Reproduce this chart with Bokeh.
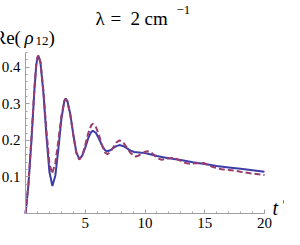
from bokeh.plotting import figure
from bokeh.models import Range1d, FixedTicker, Label, LinearAxis
from bokeh.embed import file_html
from bokeh.resources import INLINE

# ---- data ----
t_solid = [0, 0.1, 0.25, 0.5, 0.75, 0.9, 1.0, 1.08, 1.25, 1.5, 1.75, 2.0, 2.25, 2.5, 2.75,
           3.0, 3.25, 3.36, 3.5, 3.75, 4.0, 4.25, 4.5, 4.75, 5.0, 5.25, 5.5, 5.64, 5.9,
           6.15, 6.4, 6.65, 6.83, 7.1, 7.35, 7.6, 7.86, 8.2, 8.5, 8.8, 9.1, 9.5, 10.0,
           10.5, 11.0, 11.5, 12.0, 13.0, 14.0, 15.0, 16.0, 17.0, 18.0, 19.0, 20.0]
re_solid = [0.0, 0.03, 0.08, 0.2, 0.34, 0.405, 0.425, 0.431, 0.413, 0.329, 0.213, 0.114, 0.075,
            0.104, 0.176, 0.257, 0.308, 0.314, 0.308, 0.271, 0.216, 0.168, 0.149, 0.158,
            0.180, 0.206, 0.223, 0.226, 0.220, 0.204, 0.186, 0.173, 0.170, 0.173, 0.179,
            0.184, 0.187, 0.184, 0.178, 0.172, 0.168, 0.167, 0.165, 0.161, 0.157, 0.154,
            0.151, 0.146, 0.140, 0.135, 0.130, 0.126, 0.122, 0.118, 0.114]

t_dashed = [0, 0.1, 0.25, 0.5, 0.75, 0.9, 1.0, 1.08, 1.25, 1.5, 1.75, 2.0, 2.22, 2.5, 2.75,
            3.0, 3.25, 3.36, 3.5, 3.75, 4.0, 4.25, 4.5, 4.75, 5.0, 5.25, 5.5, 5.64, 5.9,
            6.15, 6.4, 6.65, 6.85, 7.1, 7.35, 7.6, 7.86, 8.2, 8.5, 8.8, 9.2, 9.45, 9.7,
            9.95, 10.2, 10.5, 10.8, 11.1, 11.4, 11.8, 12.2, 12.6, 13.0, 13.4, 13.75, 14.3,
            14.9, 15.6, 16.4, 17.0, 17.5, 18.0, 19.0, 20.0]
re_dashed = [0.0, 0.03, 0.085, 0.21, 0.345, 0.41, 0.427, 0.432, 0.415, 0.335, 0.227, 0.138,
             0.109, 0.138, 0.199, 0.266, 0.307, 0.312, 0.306, 0.269, 0.214, 0.166, 0.147,
             0.158, 0.187, 0.219, 0.241, 0.245, 0.236, 0.214, 0.187, 0.167, 0.162, 0.168,
             0.181, 0.194, 0.200, 0.193, 0.179, 0.165, 0.156, 0.158, 0.163, 0.168, 0.170,
             0.167, 0.1585, 0.150, 0.147, 0.1495, 0.152, 0.1495, 0.144, 0.138, 0.136, 0.137,
             0.138, 0.128, 0.121, 0.119, 0.117, 0.114, 0.109, 0.105]

x_ticks = [5, 10, 15, 20]
x_minor = list(range(1, 21))
y_ticks = [0.1, 0.2, 0.3, 0.4]
y_minor = [0.02, 0.04, 0.06, 0.08, 0.10, 0.12, 0.14, 0.16, 0.18, 0.20, 0.22, 0.24,
           0.26, 0.28, 0.30, 0.32, 0.34, 0.36, 0.38, 0.40, 0.42, 0.44]

X0, X1 = 0, 20
Y0, Y1 = 0, 0.44

# layout (page pixels): where the plotted box [0,20]x[0,0.44] sits
FL, FR, FT, FB = 33, 272, 60, 221
W, H = 284, 229

def fx(px):
    return X0 + (px - FL) * (X1 - X0) / (FR - FL)

def fy(py):
    return Y0 + (FB - py) * (Y1 - Y0) / (FB - FT)

# frame covers the whole canvas; axes are placed at the data origin
p = figure(width=W, height=H, output_backend="svg", toolbar_location=None,
           x_range=Range1d(fx(8), fx(8 + W)), y_range=Range1d(fy(8 + H), fy(8)),
           x_axis_location=None, y_axis_location=None,
           min_border=0)
p.outline_line_color = None
p.grid.visible = False
p.background_fill_color = "white"
p.border_fill_color = "white"

axis_col = "#a0a0a0"
serif = "Liberation Serif"

xax = LinearAxis(fixed_location=0, bounds=(X0, X1),
                 ticker=FixedTicker(ticks=x_ticks, minor_ticks=x_minor))
yax = LinearAxis(fixed_location=0, bounds=(Y0, Y1),
                 ticker=FixedTicker(ticks=y_ticks, minor_ticks=y_minor))
for ax in (xax, yax):
    ax.axis_line_color = axis_col
    ax.major_tick_line_color = axis_col
    ax.minor_tick_line_color = axis_col
    ax.major_tick_in = 4
    ax.major_tick_out = 0
    ax.minor_tick_in = 2
    ax.minor_tick_out = 0
    ax.major_label_text_font = serif
    ax.major_label_text_font_size = "15px"
    ax.major_label_text_color = "black"
xax.major_label_standoff = 4
yax.major_label_standoff = 5
p.add_layout(xax, "below")
p.add_layout(yax, "left")

p.line(t_solid, re_solid, line_color="#3d3da6", line_width=2)
p.line(t_dashed, re_dashed, line_color="#993d70", line_width=2, line_dash="6 3")


def lab(px, py, txt, size, style="normal", align="left"):
    p.add_layout(Label(x=fx(px), y=fy(py), text=txt, text_align=align,
                       text_baseline="alphabetic", text_font=serif,
                       text_font_size=size, text_font_style=style,
                       text_color="black"))

# title: λ = 2 cm^-1
lab(103, 26, "\u03bb", "19px")
lab(118, 26, "=", "19px")
lab(138, 26, "2", "19px")
lab(152, 26, "cm", "19px")
lab(184, 17, "\u22121", "13px")

# y label: Re(ρ12)
lab(1, 45, "Re(", "19px")
lab(32, 45, "\u03c1", "19px", "italic")
lab(43, 48, "12", "13px")
lab(56, 45, ")", "19px")

# x label: t′
lab(280, 215, "t", "20px", "italic")
lab(290, 212, "\u2032", "15px")

open("out.html", "w").write(file_html(p, INLINE))
